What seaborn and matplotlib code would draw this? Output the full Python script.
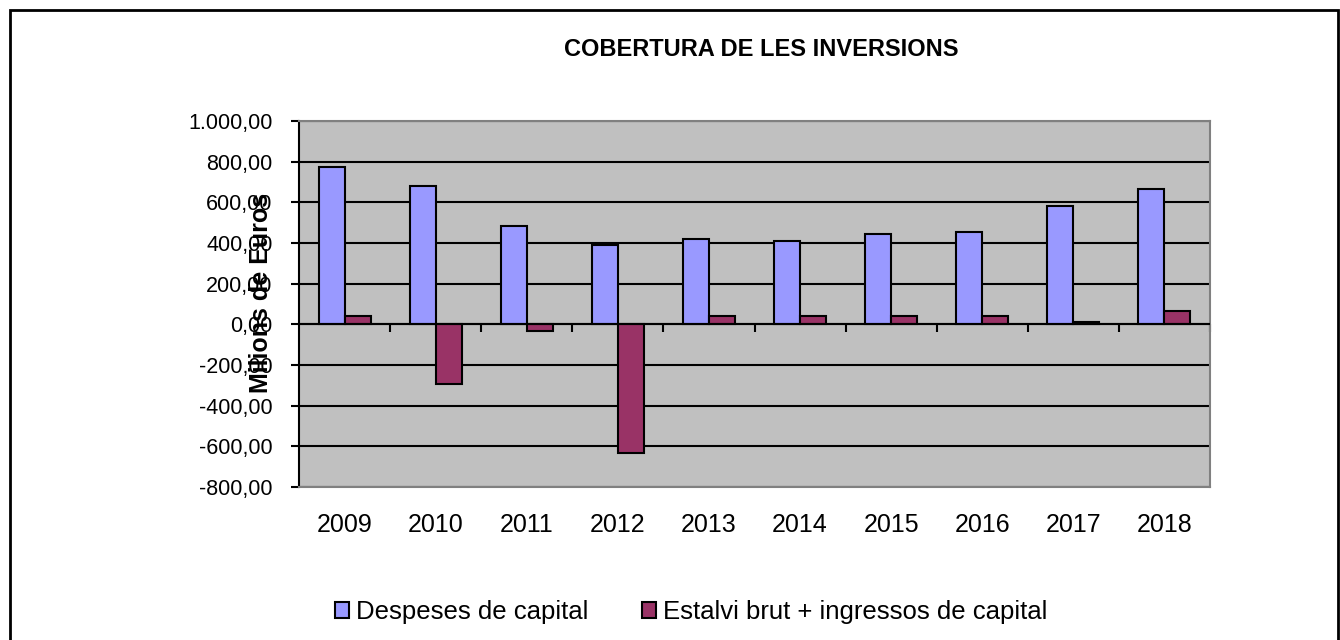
import numpy as np
import pandas as pd
import matplotlib
matplotlib.use("Agg")
import matplotlib.pyplot as plt
import seaborn as sns
from matplotlib.patches import Rectangle
from matplotlib.ticker import FuncFormatter

# ------------------------
# DATA
# ------------------------

years = ["2009", "2010", "2011", "2012", "2013", "2014", "2015", "2016", "2017", "2018"]
despeses = [774, 679, 485, 388, 421, 411, 442, 452, 582, 667]
estalvi = [43, -292, -33, -634, 43, 43, 43, 43, 10, 64]
series_names = ["Despeses de capital", "Estalvi brut + ingressos de capital"]
colors = ["#9999FF", "#993366"]
yticks = [-800, -600, -400, -200, 0, 200, 400, 600, 800, 1000]


def fmt_num(v, pos=None):
    s = f"{v:,.2f}"
    return s.replace(",", "X").replace(".", ",").replace("X", ".")


df = pd.DataFrame({
    "year": years * 2,
    "value": despeses + estalvi,
    "serie": [series_names[0]] * len(years) + [series_names[1]] * len(years),
})

# ------------------------
# PLOT
# ------------------------

sns.set_style("white")
plt.rcParams["font.family"] = ["Liberation Sans", "DejaVu Sans"]
plt.rcParams["text.color"] = "black"
plt.rcParams["xtick.color"] = "black"
plt.rcParams["ytick.color"] = "black"

fig = plt.figure(figsize=(13.4, 6.4), dpi=100)
ax = fig.add_axes([299 / 1340, 1 - 487 / 640, 911 / 1340, 366 / 640])

sns.barplot(data=df, x="year", y="value", hue="serie", palette=colors,
            width=0.57, saturation=1, edgecolor="black", linewidth=1.5,
            ax=ax, zorder=3)

ax.set_facecolor("#C0C0C0")
ax.set_xlim(-0.5, len(years) - 0.5)
ax.set_ylim(-800, 1000)
ax.set_yticks(yticks)
ax.yaxis.set_major_formatter(FuncFormatter(fmt_num))
ax.yaxis.grid(True, color="black", linewidth=1.5)
ax.set_axisbelow(True)
ax.set_xlabel("")
ax.set_ylabel("")

for side in ["top", "right", "bottom"]:
    ax.spines[side].set_color("#808080")
    ax.spines[side].set_linewidth(1.5)
ax.spines["left"].set_color("black")
ax.spines["left"].set_linewidth(1.5)

ax.tick_params(axis="y", direction="out", length=6, width=1.5, color="black",
               labelsize=15.5, pad=13, left=True)
ax.tick_params(axis="x", length=0, labelsize=18, pad=19)

# zero line with category-separator ticks
ax.axhline(0, color="black", linewidth=1.5, zorder=4)
zero_pos = (0 - (-800)) / (1000 - (-800))
sec = ax.secondary_xaxis(zero_pos)
sec.set_xticks(np.arange(len(years)) - 0.5 + 1)
sec.tick_params(direction="out", length=6, width=1.5, color="black", labelbottom=False)
sec.spines["bottom"].set_visible(False)
sec.set_xticklabels([])

ax.get_legend().remove()
handles = [Rectangle((0, 0), 1, 1, facecolor=c, edgecolor="black", linewidth=1.5) for c in colors]
fig.legend(handles, series_names, loc="center", bbox_to_anchor=(691 / 1340, 1 - 612 / 640),
           ncol=2, frameon=False, fontsize=18.5, handlelength=0.55, handleheight=0.55,
           handletextpad=0.25, columnspacing=2.1)

fig.text(761 / 1340, 1 - 50 / 640, "COBERTURA DE LES INVERSIONS", ha="center", va="center",
         fontsize=17, fontweight="bold")
fig.text(261 / 1340, 1 - 293 / 640, "Milions de Euros", ha="center", va="center",
         rotation=90, fontsize=18, fontweight="bold")

fig.patches.append(Rectangle((10 / 1340, -0.05), 1328 / 1340, 1 - 10 / 640 + 0.05,
                             transform=fig.transFigure, fill=False, edgecolor="black",
                             linewidth=2))

fig.savefig("out.png", dpi=100)
